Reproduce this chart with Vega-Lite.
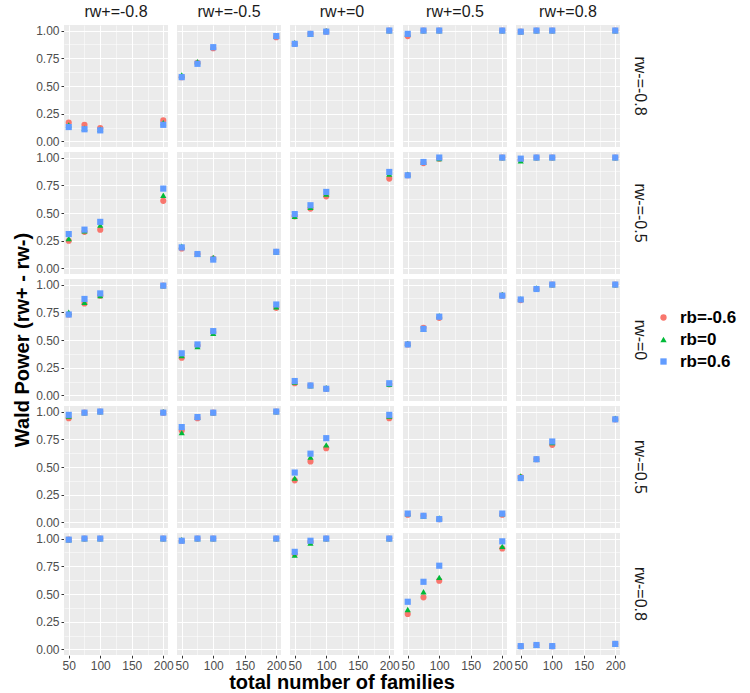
{
"$schema": "https://vega.github.io/schema/vega-lite/v6.json",
"padding": {"left": 12, "top": 4, "right": 5, "bottom": 1},
"background": "white",
"data": {"values": [
{"p":-0.8,"m":-0.8,"n":50,"r":0.17,"g":0.15,"b":0.13},
{"p":-0.8,"m":-0.8,"n":75,"r":0.15,"g":0.12,"b":0.11},
{"p":-0.8,"m":-0.8,"n":100,"r":0.12,"g":0.11,"b":0.10},
{"p":-0.8,"m":-0.8,"n":200,"r":0.19,"g":0.17,"b":0.15},
{"p":-0.5,"m":-0.8,"n":50,"r":0.58,"g":0.60,"b":0.58},
{"p":-0.5,"m":-0.8,"n":75,"r":0.71,"g":0.72,"b":0.70},
{"p":-0.5,"m":-0.8,"n":100,"r":0.84,"g":0.85,"b":0.85},
{"p":-0.5,"m":-0.8,"n":200,"r":0.94,"g":0.95,"b":0.95},
{"p":0,"m":-0.8,"n":50,"r":0.88,"g":0.89,"b":0.88},
{"p":0,"m":-0.8,"n":75,"r":0.97,"g":0.97,"b":0.97},
{"p":0,"m":-0.8,"n":100,"r":0.99,"g":1.0,"b":0.99},
{"p":0,"m":-0.8,"n":200,"r":1.0,"g":1.0,"b":1.0},
{"p":0.5,"m":-0.8,"n":50,"r":0.95,"g":0.97,"b":0.97},
{"p":0.5,"m":-0.8,"n":75,"r":1.0,"g":1.0,"b":1.0},
{"p":0.5,"m":-0.8,"n":100,"r":1.0,"g":1.0,"b":1.0},
{"p":0.5,"m":-0.8,"n":200,"r":1.0,"g":1.0,"b":1.0},
{"p":0.8,"m":-0.8,"n":50,"r":0.99,"g":0.99,"b":0.99},
{"p":0.8,"m":-0.8,"n":75,"r":1.0,"g":1.0,"b":1.0},
{"p":0.8,"m":-0.8,"n":100,"r":1.0,"g":1.0,"b":1.0},
{"p":0.8,"m":-0.8,"n":200,"r":1.0,"g":1.0,"b":1.0},
{"p":-0.8,"m":-0.5,"n":50,"r":0.25,"g":0.27,"b":0.31},
{"p":-0.8,"m":-0.5,"n":75,"r":0.33,"g":0.34,"b":0.35},
{"p":-0.8,"m":-0.5,"n":100,"r":0.35,"g":0.39,"b":0.42},
{"p":-0.8,"m":-0.5,"n":200,"r":0.61,"g":0.66,"b":0.72},
{"p":-0.5,"m":-0.5,"n":50,"r":0.18,"g":0.20,"b":0.19},
{"p":-0.5,"m":-0.5,"n":75,"r":0.13,"g":0.13,"b":0.13},
{"p":-0.5,"m":-0.5,"n":100,"r":0.09,"g":0.10,"b":0.08},
{"p":-0.5,"m":-0.5,"n":200,"r":0.15,"g":0.15,"b":0.15},
{"p":0,"m":-0.5,"n":50,"r":0.47,"g":0.47,"b":0.49},
{"p":0,"m":-0.5,"n":75,"r":0.54,"g":0.55,"b":0.57},
{"p":0,"m":-0.5,"n":100,"r":0.65,"g":0.67,"b":0.69},
{"p":0,"m":-0.5,"n":200,"r":0.81,"g":0.85,"b":0.87},
{"p":0.5,"m":-0.5,"n":50,"r":0.84,"g":0.85,"b":0.84},
{"p":0.5,"m":-0.5,"n":75,"r":0.95,"g":0.96,"b":0.96},
{"p":0.5,"m":-0.5,"n":100,"r":0.99,"g":0.99,"b":1.0},
{"p":0.5,"m":-0.5,"n":200,"r":1.0,"g":1.0,"b":1.0},
{"p":0.8,"m":-0.5,"n":50,"r":0.98,"g":0.97,"b":0.99},
{"p":0.8,"m":-0.5,"n":75,"r":1.0,"g":1.0,"b":1.0},
{"p":0.8,"m":-0.5,"n":100,"r":1.0,"g":1.0,"b":1.0},
{"p":0.8,"m":-0.5,"n":200,"r":1.0,"g":1.0,"b":1.0},
{"p":-0.8,"m":0,"n":50,"r":0.73,"g":0.75,"b":0.73},
{"p":-0.8,"m":0,"n":75,"r":0.83,"g":0.84,"b":0.87},
{"p":-0.8,"m":0,"n":100,"r":0.90,"g":0.90,"b":0.92},
{"p":-0.8,"m":0,"n":200,"r":0.99,"g":0.99,"b":0.99},
{"p":-0.5,"m":0,"n":50,"r":0.34,"g":0.36,"b":0.38},
{"p":-0.5,"m":0,"n":75,"r":0.45,"g":0.44,"b":0.46},
{"p":-0.5,"m":0,"n":100,"r":0.57,"g":0.56,"b":0.58},
{"p":-0.5,"m":0,"n":200,"r":0.79,"g":0.80,"b":0.82},
{"p":0,"m":0,"n":50,"r":0.11,"g":0.12,"b":0.13},
{"p":0,"m":0,"n":75,"r":0.09,"g":0.09,"b":0.09},
{"p":0,"m":0,"n":100,"r":0.06,"g":0.07,"b":0.06},
{"p":0,"m":0,"n":200,"r":0.10,"g":0.10,"b":0.11},
{"p":0.5,"m":0,"n":50,"r":0.46,"g":0.47,"b":0.46},
{"p":0.5,"m":0,"n":75,"r":0.61,"g":0.60,"b":0.60},
{"p":0.5,"m":0,"n":100,"r":0.70,"g":0.72,"b":0.71},
{"p":0.5,"m":0,"n":200,"r":0.90,"g":0.91,"b":0.90},
{"p":0.8,"m":0,"n":50,"r":0.86,"g":0.87,"b":0.865},
{"p":0.8,"m":0,"n":75,"r":0.96,"g":0.97,"b":0.96},
{"p":0.8,"m":0,"n":100,"r":1.0,"g":1.0,"b":1.0},
{"p":0.8,"m":0,"n":200,"r":1.0,"g":1.0,"b":1.0},
{"p":-0.8,"m":0.5,"n":50,"r":0.94,"g":0.96,"b":0.97},
{"p":-0.8,"m":0.5,"n":75,"r":0.99,"g":0.99,"b":0.99},
{"p":-0.8,"m":0.5,"n":100,"r":1.0,"g":1.0,"b":1.0},
{"p":-0.8,"m":0.5,"n":200,"r":0.99,"g":1.0,"b":0.99},
{"p":-0.5,"m":0.5,"n":50,"r":0.83,"g":0.81,"b":0.86},
{"p":-0.5,"m":0.5,"n":75,"r":0.94,"g":0.95,"b":0.95},
{"p":-0.5,"m":0.5,"n":100,"r":0.99,"g":0.99,"b":0.99},
{"p":-0.5,"m":0.5,"n":200,"r":1.0,"g":1.0,"b":1.0},
{"p":0,"m":0.5,"n":50,"r":0.38,"g":0.40,"b":0.45},
{"p":0,"m":0.5,"n":75,"r":0.55,"g":0.59,"b":0.62},
{"p":0,"m":0.5,"n":100,"r":0.67,"g":0.70,"b":0.76},
{"p":0,"m":0.5,"n":200,"r":0.94,"g":0.96,"b":0.97},
{"p":0.5,"m":0.5,"n":50,"r":0.07,"g":0.08,"b":0.08},
{"p":0.5,"m":0.5,"n":75,"r":0.06,"g":0.06,"b":0.06},
{"p":0.5,"m":0.5,"n":100,"r":0.03,"g":0.04,"b":0.03},
{"p":0.5,"m":0.5,"n":200,"r":0.07,"g":0.08,"b":0.08},
{"p":0.8,"m":0.5,"n":50,"r":0.41,"g":0.42,"b":0.40},
{"p":0.8,"m":0.5,"n":75,"r":0.57,"g":0.57,"b":0.57},
{"p":0.8,"m":0.5,"n":100,"r":0.70,"g":0.72,"b":0.73},
{"p":0.8,"m":0.5,"n":200,"r":0.93,"g":0.94,"b":0.93},
{"p":-0.8,"m":0.8,"n":50,"r":0.99,"g":0.99,"b":0.99},
{"p":-0.8,"m":0.8,"n":75,"r":1.0,"g":1.0,"b":1.0},
{"p":-0.8,"m":0.8,"n":100,"r":1.0,"g":1.0,"b":1.0},
{"p":-0.8,"m":0.8,"n":200,"r":1.0,"g":1.0,"b":1.0},
{"p":-0.5,"m":0.8,"n":50,"r":0.98,"g":0.99,"b":0.98},
{"p":-0.5,"m":0.8,"n":75,"r":1.0,"g":1.0,"b":1.0},
{"p":-0.5,"m":0.8,"n":100,"r":1.0,"g":1.0,"b":1.0},
{"p":-0.5,"m":0.8,"n":200,"r":1.0,"g":1.0,"b":1.0},
{"p":0,"m":0.8,"n":50,"r":0.86,"g":0.85,"b":0.88},
{"p":0,"m":0.8,"n":75,"r":0.97,"g":0.96,"b":0.98},
{"p":0,"m":0.8,"n":100,"r":1.0,"g":1.0,"b":1.0},
{"p":0,"m":0.8,"n":200,"r":1.0,"g":1.0,"b":1.0},
{"p":0.5,"m":0.8,"n":50,"r":0.32,"g":0.36,"b":0.43},
{"p":0.5,"m":0.8,"n":75,"r":0.47,"g":0.52,"b":0.61},
{"p":0.5,"m":0.8,"n":100,"r":0.62,"g":0.65,"b":0.755},
{"p":0.5,"m":0.8,"n":200,"r":0.91,"g":0.93,"b":0.975},
{"p":0.8,"m":0.8,"n":50,"r":0.03,"g":0.03,"b":0.03},
{"p":0.8,"m":0.8,"n":75,"r":0.04,"g":0.04,"b":0.04},
{"p":0.8,"m":0.8,"n":100,"r":0.03,"g":0.03,"b":0.03},
{"p":0.8,"m":0.8,"n":200,"r":0.05,"g":0.05,"b":0.05}
]},
"transform": [{"fold": ["r", "g", "b"], "as": ["rb", "w"]}],
"facet": {
  "column": {"field": "p", "type": "ordinal", "title": "total number of families",
    "header": {"labelExpr": "'rw+=' + datum.value", "labelPadding": 5, "titleOrient": "bottom", "titlePadding": -8}},
  "row": {"field": "m", "type": "ordinal", "title": "Wald Power (rw+ - rw-)",
    "header": {"labelExpr": "'rw-=' + datum.value", "labelOrient": "right", "labelAngle": 90, "labelPadding": 12, "titleOrient": "left", "titlePadding": -8}}
},
"spacing": {"row": 5, "column": 9},
"spec": {
  "width": 104,
  "height": 122,
  "mark": {"type": "point", "filled": true, "size": 38, "opacity": 1},
  "encoding": {
    "x": {"field": "n", "type": "quantitative", "title": null,
      "scale": {"domain": [42.5, 207.5], "nice": false, "zero": false},
      "axis": {"values": [50, 75, 100, 125, 150, 175, 200],
        "labelExpr": "datum.value % 50 == 0 ? datum.value : ''",
        "gridWidth": {"condition": {"test": "datum.value % 50 == 0", "value": 1.1}, "value": 0.5},
        "tickOpacity": {"condition": {"test": "datum.value % 50 == 0", "value": 1}, "value": 0}}},
    "y": {"field": "w", "type": "quantitative", "title": null,
      "scale": {"domain": [-0.05, 1.05], "nice": false, "zero": false},
      "axis": {"values": [0, 0.125, 0.25, 0.375, 0.5, 0.625, 0.75, 0.875, 1],
        "labelExpr": "(datum.value * 4) % 1 == 0 ? format(datum.value, '.2f') : ''",
        "gridWidth": {"condition": {"test": "(datum.value * 4) % 1 == 0", "value": 1.1}, "value": 0.5},
        "tickOpacity": {"condition": {"test": "(datum.value * 4) % 1 == 0", "value": 1}, "value": 0}}},
    "color": {"field": "rb", "type": "nominal",
      "scale": {"domain": ["r", "g", "b"], "range": ["#F8766D", "#00BA38", "#619CFF"]},
      "legend": {"title": null, "orient": "none", "legendX": 591, "legendY": 284,
        "labelExpr": "datum.label == 'r' ? 'rb=-0.6' : (datum.label == 'g' ? 'rb=0' : 'rb=0.6')"}},
    "shape": {"field": "rb", "type": "nominal",
      "scale": {"domain": ["r", "g", "b"], "range": ["circle", "triangle-up", "square"]},
      "legend": {"title": null, "orient": "none", "legendX": 591, "legendY": 284,
        "labelExpr": "datum.label == 'r' ? 'rb=-0.6' : (datum.label == 'g' ? 'rb=0' : 'rb=0.6')"}}
  }
},
"config": {
  "font": "Liberation Sans",
  "view": {"fill": "#EBEBEB", "stroke": null},
  "axis": {
    "domain": false,
    "gridColor": "white",
    "gridOpacity": 1,
    "tickColor": "#333333",
    "tickSize": 3,
    "tickWidth": 1,
    "labelFontSize": 12,
    "labelColor": "#4D4D4D",
    "labelPadding": 2,
    "labelOverlap": false,
    "labelFlush": false,
    "labelBound": false
  },
  "header": {"labelFontSize": 16, "labelColor": "#1A1A1A", "labelFont": "Liberation Sans",
    "titleFontSize": 20, "titleFontWeight": "bold", "titleColor": "black", "titleFont": "Liberation Sans"},
  "legend": {"labelFontSize": 17, "labelFontWeight": "bold", "labelColor": "black",
    "symbolSize": 40, "rowPadding": 4, "symbolStrokeWidth": 0, "labelOffset": 8}
}
}
